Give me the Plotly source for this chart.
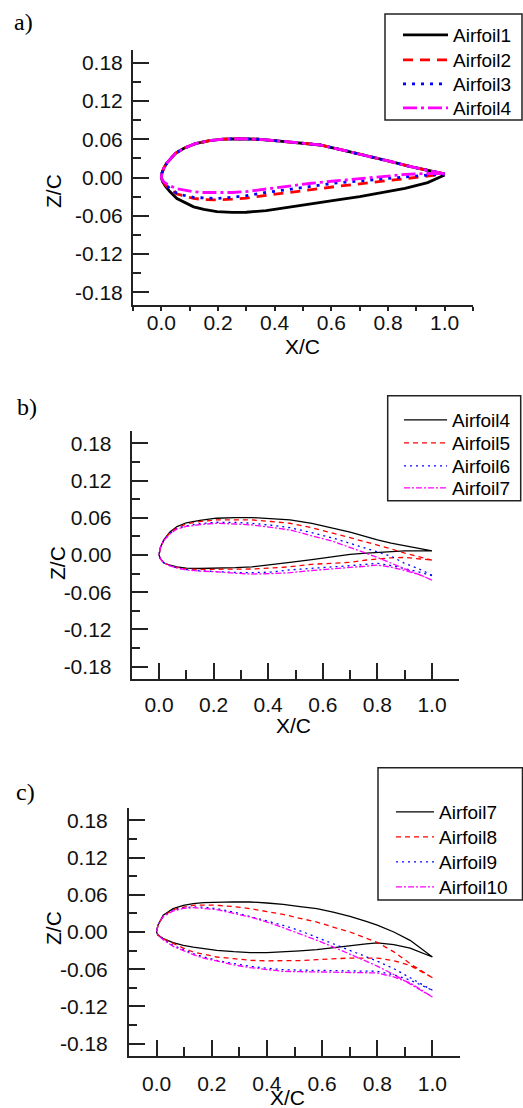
import plotly.graph_objects as go

# ---------------- data ----------------
# Panel a) x stations
xa_up = [0.0, 0.002, 0.005, 0.01, 0.02, 0.035, 0.05, 0.08, 0.12, 0.17, 0.22, 0.28, 0.34, 0.40, 0.48,
         0.56, 0.64, 0.72, 0.80, 0.88, 0.94, 1.0]
xa_lo = [0.0, 0.002, 0.005, 0.015, 0.03, 0.055, 0.08, 0.114, 0.15, 0.196, 0.25, 0.30, 0.37, 0.45,
         0.53, 0.61, 0.70, 0.78, 0.86, 0.94, 1.0]
za_up_common = [0.0, 0.007, 0.011, 0.016, 0.023, 0.031, 0.038, 0.046, 0.053, 0.058, 0.0603, 0.0608,
                0.060, 0.058, 0.055, 0.051, 0.043, 0.035, 0.026, 0.017, 0.011, 0.0055]
airfoil1_lo = [0.0, -0.004, -0.007, -0.014, -0.022, -0.033, -0.039, -0.046, -0.050, -0.0535, -0.0548,
               -0.0545, -0.052, -0.047, -0.042, -0.036, -0.030, -0.024, -0.017, -0.008, 0.004]
airfoil2_lo = [0.0, -0.0035, -0.006, -0.012, -0.018, -0.026, -0.029, -0.0329, -0.0345, -0.035, -0.034,
               -0.0325, -0.028, -0.023, -0.019, -0.0145, -0.010, -0.006, -0.0015, 0.0028, 0.0053]
airfoil3_lo = [0.0, -0.0035, -0.006, -0.0115, -0.017, -0.0245, -0.028, -0.0313, -0.0325, -0.0329, -0.031,
               -0.0285, -0.0235, -0.019, -0.014, -0.009, -0.0055, -0.002, 0.001, 0.0038, 0.0053]
airfoil4a_lo = [0.0, -0.003, -0.005, -0.009, -0.013, -0.0178, -0.020, -0.0225, -0.0235, -0.024, -0.0235,
                -0.022, -0.0178, -0.0135, -0.009, -0.0055, -0.0015, 0.002, 0.0048, 0.0063, 0.006]

# Panel b) x stations
xb = [0.0, 0.005, 0.017, 0.04, 0.066, 0.10, 0.15, 0.21, 0.28, 0.34, 0.41, 0.48, 0.56, 0.64,
      0.70, 0.76, 0.80, 0.85, 0.90, 0.95, 1.0]
airfoil4b_up = [0.0, 0.012, 0.024, 0.037, 0.0458, 0.052, 0.056, 0.0593, 0.0604, 0.0604, 0.059,
                0.0566, 0.051, 0.0431, 0.037, 0.030, 0.0245, 0.019, 0.0145, 0.0105, 0.0065]
airfoil4b_lo = [0.0, -0.006, -0.0125, -0.0165, -0.019, -0.0213, -0.0218, -0.0216, -0.0205, -0.019,
                -0.016, -0.012, -0.0075, -0.002, 0.001, 0.003, 0.0043, 0.0055, 0.0065, 0.0065, 0.0065]
airfoil5_up = [0.0, 0.012, 0.023, 0.036, 0.044, 0.050, 0.054, 0.0566, 0.0568, 0.0566, 0.054,
               0.0512, 0.044, 0.035, 0.028, 0.0216, 0.016, 0.010, 0.003, -0.0025, -0.0081]
airfoil5_lo = [0.0, -0.006, -0.0125, -0.0168, -0.020, -0.0226, -0.0232, -0.0233, -0.0232, -0.0226,
               -0.021, -0.019, -0.015, -0.0135, -0.0118, -0.0081, -0.006, -0.0045, -0.004, -0.0055, -0.0081]
airfoil6_up = [0.0, 0.012, 0.023, 0.035, 0.043, 0.047, 0.0505, 0.0528, 0.0525, 0.0512, 0.048,
               0.044, 0.036, 0.027, 0.019, 0.0108, 0.005, -0.002, -0.0135, -0.022, -0.0324]
airfoil6_lo = [0.0, -0.006, -0.0125, -0.017, -0.0205, -0.0235, -0.0255, -0.027, -0.0282, -0.0286,
               -0.0275, -0.024, -0.021, -0.019, -0.0173, -0.015, -0.0135, -0.017, -0.0215, -0.027, -0.0334]
airfoil7b_up = [0.0, 0.012, 0.023, 0.034, 0.042, 0.046, 0.049, 0.0512, 0.050, 0.0485, 0.0445,
                0.0404, 0.031, 0.0216, 0.012, 0.0027, -0.004, -0.0125, -0.022, -0.031, -0.0404]
airfoil7b_lo = [0.0, -0.006, -0.0125, -0.0175, -0.021, -0.0243, -0.026, -0.027, -0.0295, -0.0307,
                -0.030, -0.0285, -0.025, -0.0225, -0.0205, -0.018, -0.0162, -0.0195, -0.025, -0.031, -0.0404]

# Panel c) x stations
xc = [0.0, 0.005, 0.024, 0.06, 0.097, 0.133, 0.17, 0.218, 0.28, 0.339, 0.40, 0.459, 0.52, 0.581,
      0.64, 0.701, 0.76, 0.80, 0.86, 0.919, 1.0]
airfoil7c_up = [0.0, 0.011, 0.027, 0.0377, 0.043, 0.0458, 0.0475, 0.0484, 0.0486, 0.0484, 0.0468,
                0.0447, 0.041, 0.0377, 0.032, 0.0253, 0.017, 0.011, 0.0, -0.0134, -0.0403]
airfoil7c_lo = [0.0, -0.005, -0.0107, -0.017, -0.0215, -0.0245, -0.027, -0.0296, -0.0318, -0.0333,
                -0.0333, -0.0323, -0.0305, -0.0285, -0.025, -0.0215, -0.019, -0.0177, -0.0205, -0.026, -0.0403]
airfoil8_up = [0.0, 0.011, 0.026, 0.0361, 0.040, 0.0431, 0.0435, 0.0431, 0.041, 0.0377, 0.033,
               0.0285, 0.022, 0.0161, 0.008, 0.0, -0.010, -0.0167, -0.032, -0.051, -0.0737]
airfoil8_lo = [0.0, -0.005, -0.011, -0.0188, -0.026, -0.0323, -0.036, -0.0403, -0.043, -0.0457,
               -0.0465, -0.0468, -0.046, -0.0447, -0.043, -0.042, -0.042, -0.042, -0.0462, -0.054, -0.0737]
airfoil9_up = [0.0, 0.011, 0.025, 0.035, 0.039, 0.0404, 0.040, 0.0377, 0.032, 0.0253, 0.0175,
               0.0108, 0.002, -0.008, -0.018, -0.0296, -0.040, -0.047, -0.059, -0.0737, -0.094]
airfoil9_lo = [0.0, -0.005, -0.012, -0.0215, -0.029, -0.035, -0.040, -0.0457, -0.051, -0.0554,
               -0.0585, -0.0608, -0.0615, -0.0618, -0.0622, -0.0629, -0.0632, -0.0634, -0.069, -0.0775, -0.094]
airfoil10_up = [0.0, 0.011, 0.025, 0.0339, 0.038, 0.0393, 0.038, 0.0361, 0.030, 0.0242, 0.016,
                0.007, -0.003, -0.0134, -0.024, -0.036, -0.047, -0.055, -0.0685, -0.0833, -0.1048]
airfoil10_lo = [0.0, -0.005, -0.0125, -0.0231, -0.030, -0.0366, -0.042, -0.0473, -0.053, -0.0575,
                -0.061, -0.0634, -0.064, -0.0645, -0.065, -0.0656, -0.066, -0.066, -0.0725, -0.082, -0.1048]

x_tickvals = [0.0, 0.2, 0.4, 0.6, 0.8, 1.0]
x_ticktext = ["0.0", "0.2", "0.4", "0.6", "0.8", "1.0"]
y_tickvals = [-0.18, -0.12, -0.06, 0.0, 0.06, 0.12, 0.18]
y_ticktext = ["-0.18", "-0.12", "-0.06", "0.00", "0.06", "0.12", "0.18"]

# ---------------- figure ----------------
W, H = 523, 1108
def fx(p):
    return p / W
def fy(p):
    return 1 - p / H

FONT = "Arial, Liberation Sans, sans-serif"
SERIF = "Times New Roman, Liberation Serif, serif"

fig = go.Figure()

def outline(xu, zu, xl, zl):
    return list(reversed(xu)) + list(xl[1:]), list(reversed(zu)) + list(zl[1:])

panels = [
    dict(xa="x", ya="y", lw=2.8, legx=398, itemw=45, legy=[35, 60, 84, 108], series=[
        ("Airfoil1", xa_up, za_up_common, xa_lo, airfoil1_lo, "#000000", "solid"),
        ("Airfoil2", xa_up, za_up_common, xa_lo, airfoil2_lo, "#FF0000", "10px,7px"),
        ("Airfoil3", xa_up, za_up_common, xa_lo, airfoil3_lo, "#0000FF", "3px,6px"),
        ("Airfoil4", xa_up, za_up_common, xa_lo, airfoil4a_lo, "#FF00FF", "14px,4px,3px,4px"),
    ]),
    dict(xa="x2", ya="y2", lw=1.3, legx=399, itemw=43, legy=[420, 443, 466, 488], series=[
        ("Airfoil4", xb, airfoil4b_up, xb, airfoil4b_lo, "#000000", "solid"),
        ("Airfoil5", xb, airfoil5_up, xb, airfoil5_lo, "#FF0000", "5px,4px"),
        ("Airfoil6", xb, airfoil6_up, xb, airfoil6_lo, "#0000FF", "2px,4px"),
        ("Airfoil7", xb, airfoil7b_up, xb, airfoil7b_lo, "#FF00FF", "6px,2px,2px,2px"),
    ]),
    dict(xa="x3", ya="y3", lw=1.3, legx=391, itemw=38, legy=[812, 837, 862, 887], series=[
        ("Airfoil7", xc, airfoil7c_up, xc, airfoil7c_lo, "#000000", "solid"),
        ("Airfoil8", xc, airfoil8_up, xc, airfoil8_lo, "#FF0000", "5px,4px"),
        ("Airfoil9", xc, airfoil9_up, xc, airfoil9_lo, "#0000FF", "2px,4px"),
        ("Airfoil10", xc, airfoil10_up, xc, airfoil10_lo, "#FF00FF", "6px,2px,2px,2px"),
    ]),
]

layout = {}
k = 0
for p in panels:
    for (name, xu, zu, xl, zl, col, dash), ly in zip(p["series"], p["legy"]):
        k += 1
        lname = "legend" if k == 1 else "legend%d" % k
        xs, zs = outline(xu, zu, xl, zl)
        fig.add_trace(go.Scatter(x=xs, y=zs, mode="lines", name=name,
                                 line=dict(color=col, width=p["lw"], dash=dash),
                                 xaxis=p["xa"], yaxis=p["ya"], legend=lname))
        layout[lname] = dict(x=fx(p["legx"]), y=fy(ly), xanchor="left", yanchor="middle",
                             bgcolor="rgba(0,0,0,0)", borderwidth=0,
                             font=dict(family=FONT, size=19, color="#000"),
                             itemwidth=p["itemw"])

# plot areas in pixels: (left, right, top, bottom)
areas = [(133, 473, 50, 305), (131.7, 459.3, 431, 679), (129, 460, 808, 1056)]
axis_ids = [("xaxis", "yaxis"), ("xaxis2", "yaxis2"), ("xaxis3", "yaxis3")]
anchors = [("y", "x"), ("y2", "x2"), ("y3", "x3")]
x_standoffs = [-6, 6, 8]
y_standoffs = [4, 14, 15]

for i, ((l, r, t, b), (xk, yk), (xanc, yanc)) in enumerate(zip(areas, axis_ids, anchors)):
    first = (i == 0)
    layout[xk] = dict(
        domain=[fx(l), fx(r)], anchor=xanc, range=[-0.1, 1.1],
        showline=True, linecolor="#222", linewidth=2, mirror=False,
        showgrid=False, zeroline=False,
        tickmode="array", tickvals=x_tickvals, ticktext=x_ticktext,
        ticks="outside" if first else "inside",
        ticklen=4 if first else 16, tickwidth=1.5, tickcolor="#222",
        ticklabelstandoff=x_standoffs[i],
        minor=dict(dtick=0.1, tick0=0, ticklen=4 if first else 9, tickwidth=1.5,
                   tickcolor="#222", ticks="outside" if first else "inside"),
        tickfont=dict(family=FONT, size=21, color="#111"),
    )
    layout[yk] = dict(
        domain=[fy(b), fy(t)], anchor=yanc, range=[-0.2, 0.2],
        showline=True, linecolor="#222", linewidth=2, mirror=False,
        showgrid=False, zeroline=False,
        tickmode="array", tickvals=y_tickvals, ticktext=y_ticktext,
        ticks="inside", ticklen=16, tickwidth=1.5, tickcolor="#222",
        ticklabelstandoff=y_standoffs[i],
        minor=dict(dtick=0.03, tick0=0, ticklen=8, tickwidth=1.5, tickcolor="#222", ticks="inside"),
        tickfont=dict(family=FONT, size=21, color="#111"),
    )

shapes = [
    dict(type="rect", xref="paper", yref="paper", x0=fx(385), x1=fx(522), y0=fy(120), y1=fy(14),
         line=dict(color="#222", width=1.5)),
    dict(type="rect", xref="paper", yref="paper", x0=fx(387.7), x1=fx(520.7), y0=fy(500.7), y1=fy(395.7),
         line=dict(color="#222", width=1.5)),
    dict(type="rect", xref="paper", yref="paper", x0=fx(378), x1=fx(522.5), y0=fy(900), y1=fy(767.7),
         line=dict(color="#222", width=1.5)),
]

annotations = []
for lab, (xp, yp) in zip(["a)", "b)", "c)"], [(23, 22), (27, 407), (25, 792)]):
    annotations.append(dict(text=lab, x=fx(xp), y=fy(yp), xref="paper", yref="paper",
                            showarrow=False, xanchor="center", yanchor="middle",
                            font=dict(family=SERIF, size=24, color="#000")))
for (xp, yp) in [(53, 191), (57, 563), (53, 928)]:
    annotations.append(dict(text="Z/C", x=fx(xp), y=fy(yp), xref="paper", yref="paper",
                            showarrow=False, textangle=-90, xanchor="center", yanchor="middle",
                            font=dict(family=FONT, size=21, color="#000")))
for (xp, yp) in [(302, 346), (293, 725), (287, 1097)]:
    annotations.append(dict(text="X/C", x=fx(xp), y=fy(yp), xref="paper", yref="paper",
                            showarrow=False, xanchor="center", yanchor="middle",
                            font=dict(family=FONT, size=21, color="#000")))

fig.update_layout(
    width=W, height=H, margin=dict(l=0, r=0, t=0, b=0, autoexpand=False),
    paper_bgcolor="white", plot_bgcolor="white",
    showlegend=True, shapes=shapes, annotations=annotations,
    **layout,
)

fig.write_html("out.html", config={"displayModeBar": False},
               post_script="document.body.style.margin='0px';")
